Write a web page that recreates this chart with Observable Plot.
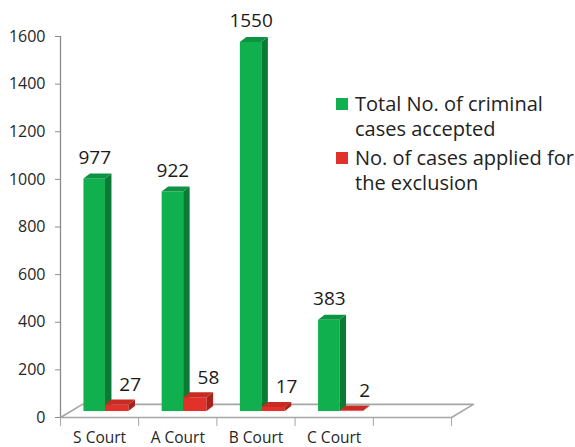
<!DOCTYPE html>
<html>
<head>
<meta charset="utf-8">
<script src="https://cdn.jsdelivr.net/npm/d3@7"></script>
<script src="https://cdn.jsdelivr.net/npm/@observablehq/plot@0.6"></script>
<style>
  html, body { margin: 0; padding: 0; background: #fff; }
  #chart { position: relative; width: 575px; height: 447px; font-family: "Open Sans", sans-serif; }
  #legend { position: absolute; left: 336px; top: 91px; font-size: 20px; line-height: 25px; color: #222; }
  .item { display: flex; align-items: flex-start; margin-bottom: 4px; }
  .sw { width: 12px; height: 12px; margin-top: 7px; margin-right: 7px; flex: none; }
  .lbl { width: 226px; }
</style>
</head>
<body>
<div id="chart"><div id="legend"></div></div>
<script>
// ---- data ----
const categories = ["S Court", "A Court", "B Court", "C Court"];
const totalAccepted = [977, 922, 1550, 383];
const appliedExclusion = [27, 58, 17, 2];
const seriesNames = ["Total No. of criminal cases accepted", "No. of cases applied for the exclusion"];
const yTicks = [0, 200, 400, 600, 800, 1000, 1200, 1400, 1600];

// ---- styling / geometry (not data) ----
const slotCount = 5;
const seriesColors = [
  {front: "#10b04e", side: "#0a7a35", top: "#0c9442"},
  {front: "#e0322a", side: "#a8221a", top: "#c92a21"}
];
const slotOffsets = [[0.30, 0.575], [0.575, 0.875]];
const base = 25;          // bar base lift (in y units) for 3D placement
const depthX = 0.083, depthY = 21;     // bar depth
const floorX = 0.28, floorY = 55;      // floor depth

const series = [totalAccepted, appliedExclusion];
const bars = [];
series.forEach((vals, s) => vals.forEach((v, i) => bars.push({
  s, i, v, key: s + "-" + i,
  x1: i + slotOffsets[s][0], x2: i + slotOffsets[s][1]
})));

function faces(s) {
  const bs = bars.filter(b => b.s === s);
  const c = seriesColors[s];
  const side = [], top = [];
  bs.forEach(b => {
    side.push({key: b.key, x: b.x2, y1: base, y2: base + b.v, fill: c.side});
    side.push({key: b.key, x: b.x2 + depthX, y1: base + depthY, y2: base + b.v + depthY, fill: c.side});
    top.push({key: b.key, y: base + b.v, x1: b.x1, x2: b.x2, fill: c.top});
    top.push({key: b.key, y: base + b.v + depthY, x1: b.x1 + depthX, x2: b.x2 + depthX, fill: c.top});
  });
  return [
    Plot.rect(bs, {x1: "x1", x2: "x2", y1: () => base, y2: d => base + d.v, fill: c.front}),
    Plot.areaY(side, {x: "x", y1: "y1", y2: "y2", z: "key", fill: "fill"}),
    Plot.areaX(top, {y: "y", x1: "x1", x2: "x2", z: "key", fill: "fill"})
  ];
}

const floor = [
  {x: 0, y: 0}, {x: slotCount, y: 0},
  {x: slotCount + floorX, y: floorY}, {x: floorX, y: floorY}, {x: 0, y: 0}
];

const chart = Plot.plot({
  width: 575, height: 447,
  marginLeft: 60, marginRight: 124, marginTop: 36, marginBottom: 30,
  style: {fontFamily: "Open Sans", background: "#fff", color: "#222"},
  x: {type: "linear", domain: [0, slotCount]},
  y: {domain: [0, 1600]},
  color: {type: "identity"},
  marks: [
    Plot.line(floor, {x: "x", y: "y", stroke: "#a6a6a6", strokeWidth: 1.6}),
    Plot.ruleX([0], {y1: 0, y2: 1600, stroke: "#8c8c8c", strokeWidth: 1.3}),
    Plot.axisY({ticks: yTicks, tickSize: 5, tickPadding: 10, tickFormat: d => String(d),
      stroke: "#8c8c8c", fill: "#262626", fontSize: 16, label: null}),
    Plot.axisX({ticks: d3.range(0, slotCount + 1), tickSize: 9, tickFormat: () => "", stroke: "#a6a6a6", label: null}),
    Plot.axisX({ticks: categories.map((c, i) => i + 0.5), tickSize: 0, tickPadding: 14,
      tickFormat: d => categories[Math.floor(d)], fill: "#262626", fontSize: 15.5, label: null}),
    ...faces(0),
    ...faces(1),
    Plot.text(bars.filter(b => b.s === 0), {x: d => (d.x1 + d.x2) / 2, y: d => base + d.v, text: d => String(d.v),
      lineAnchor: "bottom", dy: -15, fontSize: 19, fill: "#1a1a1a"}),
    Plot.text(bars.filter(b => b.s === 1), {x: d => (d.x1 + d.x2) / 2, y: d => base + d.v, text: d => String(d.v),
      lineAnchor: "bottom", dy: -14, dx: 13, fontSize: 19, fill: "#1a1a1a"})
  ]
});
document.getElementById("chart").prepend(chart);

const legend = document.getElementById("legend");
seriesNames.forEach((name, s) => {
  const item = document.createElement("div");
  item.className = "item";
  const sw = document.createElement("div");
  sw.className = "sw";
  sw.style.background = seriesColors[s].front;
  const lbl = document.createElement("div");
  lbl.className = "lbl";
  lbl.textContent = name;
  item.append(sw, lbl);
  legend.append(item);
});
</script>
</body>
</html>
